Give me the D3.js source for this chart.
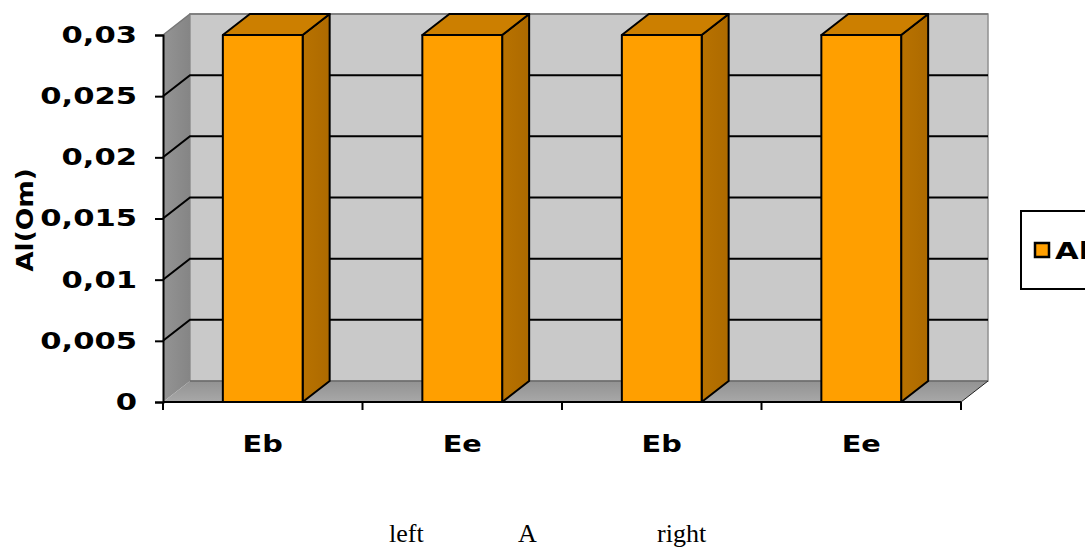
<!DOCTYPE html>
<html>
<head>
<meta charset="utf-8">
<script src="https://cdn.jsdelivr.net/npm/d3@7"></script>
<style>
  html, body { margin: 0; padding: 0; background: #fff; }
  svg { display: block; }
  .wide { font-family: "DejaVu Sans", sans-serif; font-weight: bold; fill: #000; }
  .foot { font-family: "Liberation Serif", serif; font-size: 26px; fill: #000; }
</style>
</head>
<body>
<div id="chart"></div>
<script>
/* 3D look column chart */
const categories = ["Eb", "Ee", "Eb", "Ee"];
const values = [0.03, 0.03, 0.03, 0.03];
const yTicks = [0, 0.005, 0.01, 0.015, 0.02, 0.025, 0.03];
const seriesName = "Al";
const yTitle = "Al(Om)";
const footLabels = ["left", "A", "right"];

const width = 1085, height = 547;
const plotL = 163, plotR = 961, plotT = 35, plotB = 402;
const dx = 27, dy = -21; // depth offset of the back wall

const svg = d3.select("#chart").append("svg")
    .attr("width", width)
    .attr("height", height)
    .attr("viewBox", [0, 0, width, height]);

const x = d3.scaleBand().domain(d3.range(categories.length)).range([plotL, plotR]).paddingInner(0.6).paddingOuter(0.3);
const y = d3.scaleLinear().domain([0, 0.03]).range([plotB, plotT]);

const pts = a => a.map(p => p.join(",")).join(" ");

// stretch text sideways, the original font is a wide one
function widen(sel, k) {
    sel.each(function () {
        this.setAttribute("textLength", this.getComputedTextLength() * k);
        this.setAttribute("lengthAdjust", "spacingAndGlyphs");
    });
}

const defs = svg.append("defs");
const wallGrad = defs.append("linearGradient").attr("id", "wall");
wallGrad.append("stop").attr("offset", "0").attr("stop-color", "#949494");
wallGrad.append("stop").attr("offset", "1").attr("stop-color", "#858585");
const floorGrad = defs.append("linearGradient").attr("id", "floor").attr("x2", 0).attr("y2", 1);
floorGrad.append("stop").attr("offset", "0").attr("stop-color", "#929292");
floorGrad.append("stop").attr("offset", "1").attr("stop-color", "#a8a8a8");
const sideGrad = defs.append("linearGradient").attr("id", "side");
sideGrad.append("stop").attr("offset", "0").attr("stop-color", "#b87200");
sideGrad.append("stop").attr("offset", "1").attr("stop-color", "#ad6a00");

// back wall
svg.append("rect")
    .attr("x", plotL + dx).attr("y", plotT + dy)
    .attr("width", plotR - plotL).attr("height", plotB - plotT)
    .attr("fill", "#c9c9c9").attr("stroke", "#909090").attr("stroke-width", 1.5);
// left wall
svg.append("polygon")
    .attr("points", pts([[plotL, plotT], [plotL + dx, plotT + dy], [plotL + dx, plotB + dy], [plotL, plotB]]))
    .attr("fill", "url(#wall)");
// floor
svg.append("polygon")
    .attr("points", pts([[plotL, plotB], [plotL + dx, plotB + dy], [plotR + dx, plotB + dy], [plotR, plotB]]))
    .attr("fill", "url(#floor)");
svg.append("line")
    .attr("x1", plotL + dx).attr("x2", plotR + dx)
    .attr("y1", plotB + dy).attr("y2", plotB + dy)
    .attr("stroke", "#555").attr("stroke-width", 1);
svg.append("line")
    .attr("x1", plotR).attr("y1", plotB)
    .attr("x2", plotR + dx).attr("y2", plotB + dy)
    .attr("stroke", "#222").attr("stroke-width", 1);

// gridlines, on both walls
const grid = svg.append("g").attr("stroke", "#000").attr("stroke-width", 2).attr("fill", "none");
grid.selectAll("polyline")
    .data(yTicks.slice(1, -1))
    .join("polyline")
    .attr("points", d => pts([[plotL, y(d)], [plotL + dx, y(d) + dy], [plotR + dx, y(d) + dy]]));
svg.append("polyline")
    .attr("points", pts([[plotL, plotT], [plotL + dx, plotT + dy], [plotR + dx, plotT + dy]]))
    .attr("fill", "none").attr("stroke", "#777").attr("stroke-width", 1.5);

// bars: side, top, front
const bars = svg.append("g").attr("stroke", "#000").attr("stroke-width", 2).attr("stroke-linejoin", "round");
values.forEach((v, i) => {
    const x0 = x(i), x1 = x(i) + x.bandwidth(), yv = y(v);
    bars.append("polygon")
        .attr("points", pts([[x1, yv], [x1 + dx, yv + dy], [x1 + dx, plotB + dy], [x1, plotB]]))
        .attr("fill", "url(#side)");
    bars.append("polygon")
        .attr("points", pts([[x0, yv], [x0 + dx, yv + dy], [x1 + dx, yv + dy], [x1, yv]]))
        .attr("fill", "#cc7f00");
    bars.append("rect")
        .attr("x", x0).attr("y", yv)
        .attr("width", x.bandwidth()).attr("height", plotB - yv)
        .attr("fill", "#ff9f00");
});

// y axis
const yAxis = svg.append("g")
    .attr("transform", `translate(${plotL},0)`)
    .call(d3.axisLeft(y).tickValues(yTicks).tickSizeOuter(0).tickSize(8).tickPadding(18)
        .tickFormat(d => String(d).replace(".", ",")));
yAxis.selectAll("line, path").attr("stroke", "#000").attr("stroke-width", 2);
yAxis.selectAll("text").attr("class", "wide").style("font-size", "23px").call(widen, 1.33);

// x axis: ticks on band edges, labels on band centres
const xAxis = svg.append("g").attr("transform", `translate(0,${plotB})`);
xAxis.append("line").attr("x1", plotL).attr("x2", plotR).attr("stroke", "#000").attr("stroke-width", 2);
xAxis.selectAll(".edge")
    .data(d3.range(categories.length + 1))
    .join("line")
    .attr("class", "edge")
    .attr("x1", i => plotL + i * x.step()).attr("x2", i => plotL + i * x.step())
    .attr("y1", 0).attr("y2", 8)
    .attr("stroke", "#000").attr("stroke-width", 2);
xAxis.selectAll(".cat")
    .data(categories)
    .join("text")
    .attr("class", "cat wide")
    .attr("x", (d, i) => x(i) + x.bandwidth() / 2)
    .attr("y", 50)
    .attr("text-anchor", "middle")
    .style("font-size", "23px")
    .text(d => d)
    .call(widen, 1.25);

// y title
svg.append("text")
    .attr("class", "wide")
    .attr("transform", "translate(33,220) rotate(-90)")
    .attr("text-anchor", "middle")
    .style("font-size", "23px")
    .text(yTitle)
    .call(widen, 1.15);

// legend, runs off the right edge like the original
svg.append("rect")
    .attr("x", 1021).attr("y", 211).attr("width", 90).attr("height", 78)
    .attr("fill", "#fff").attr("stroke", "#000").attr("stroke-width", 2);
svg.append("rect")
    .attr("x", 1035).attr("y", 243).attr("width", 14).attr("height", 14)
    .attr("fill", "#ff9f00").attr("stroke", "#000").attr("stroke-width", 2.5);
svg.append("text")
    .attr("class", "wide")
    .attr("x", 1055).attr("y", 259)
    .style("font-size", "23px")
    .text(seriesName)
    .call(widen, 1.33);

// caption under the chart
svg.selectAll(".foot")
    .data(footLabels)
    .join("text")
    .attr("class", "foot")
    .attr("x", (d, i) => [389, 518, 657][i])
    .attr("y", 542)
    .text(d => d);
</script>
</body>
</html>
